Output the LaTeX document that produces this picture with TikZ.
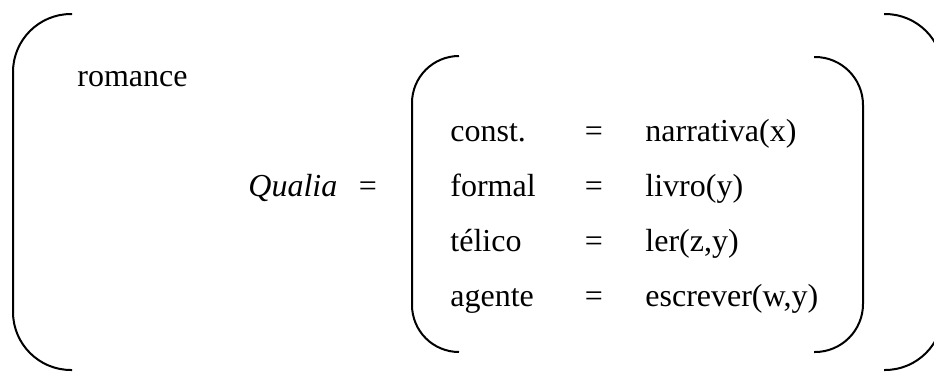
\documentclass[tikz,border=0pt]{standalone}
\usepackage{fontspec}
\setmainfont{Liberation Serif}
\tikzset{
  txt/.style={anchor=base west,inner sep=0pt,font=\fontsize{16}{19}\selectfont},
  eq/.style={anchor=base,inner sep=0pt,font=\fontsize{16}{19}\selectfont},
  brk/.style={line width=1pt,line join=round}
}
\begin{document}
\begin{tikzpicture}[x=.5pt,y=-.5pt]
  \useasboundingbox (0,0) rectangle (934,371); \clip (0,0) rectangle (934,371);
  % outer brackets
  \draw[brk,rounded corners=29pt] (72,14)--(13,14)--(13,370)--(72,370);
  \draw[brk,rounded corners=29pt] (884,14)--(943,14)--(943,370)--(884,370);
  % inner brackets
  \draw[brk,rounded corners=23.5pt] (459,56)--(412,56)--(412,352)--(459,352);
  \draw[brk,rounded corners=24pt] (814,57)--(863,57)--(863,352)--(814,352);
  \node[txt] (romance) at (77,86) {romance};
  \node[txt] (qualia) at (248,196) {\textit{Qualia}}; \node[eq] (qeq) at (368,196) {=};
  \node[txt] (const) at (450,141) {const.}; \node[eq] (ceq) at (594,141) {=}; \node[txt] (cval) at (645,141) {narrativa(x)};
  \node[txt] (formal) at (450,196) {formal}; \node[eq] (feq) at (594,196) {=}; \node[txt] (fval) at (645,196) {livro(y)};
  \node[txt] (telico) at (450,251) {télico}; \node[eq] (teq) at (594,251) {=}; \node[txt] (tval) at (645,251) {ler(z,y)};
  \node[txt] (agente) at (450,306) {agente}; \node[eq] (aeq) at (594,306) {=}; \node[txt] (aval) at (645,306) {escrever(w,y)};
\end{tikzpicture}
\end{document}
